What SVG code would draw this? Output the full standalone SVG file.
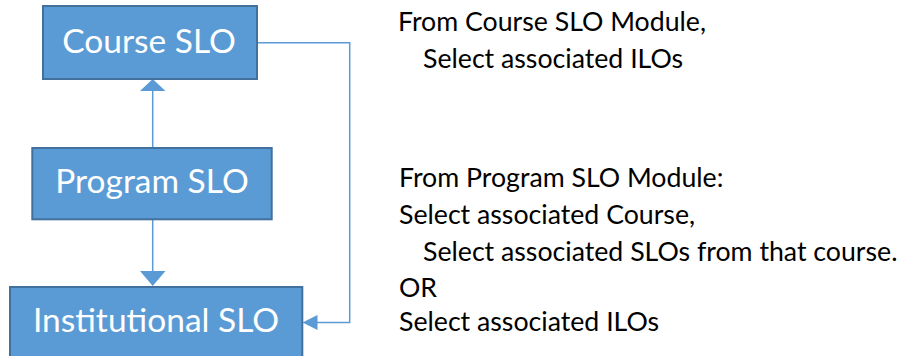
<svg xmlns="http://www.w3.org/2000/svg" width="904" height="356" viewBox="0 0 904 356">
<style>
.box{fill:#5B9BD5;stroke:#41719C;stroke-width:2}
.bt{fill:#FFFFFF;font-family:Lato,"Open Sans",sans-serif;font-size:33.5px;text-anchor:middle}
.note{fill:#000000;font-family:Lato,"Open Sans",sans-serif;font-size:26.7px}
.conn{fill:none;stroke:#5B9BD5;stroke-width:1.5}
.head{fill:#5B9BD5}
</style>
<rect width="904" height="356" fill="#FFFFFF"/>
<g id="connectors">
<line class="conn" x1="152.7" y1="148" x2="152.7" y2="90"/>
<polygon class="head" points="152.7,79 165.5,91 140,91"/>
<line class="conn" x1="152.7" y1="219" x2="152.7" y2="272"/>
<polygon class="head" points="152.7,286 140,271 165.5,271"/>
<polyline class="conn" points="257,42.7 349.7,42.7 349.7,322.5 316,322.5"/>
<polygon class="head" points="302.5,322.5 317.5,315 317.5,330"/>
</g>
<g id="course-slo">
<rect class="box" x="43" y="6" width="214" height="73"/>
<text class="bt" x="149" y="53">Course SLO</text>
</g>
<g id="program-slo">
<rect class="box" x="32.3" y="148" width="239.4" height="71.3"/>
<text class="bt" x="152" y="193">Program SLO</text>
</g>
<g id="institutional-slo">
<rect class="box" x="10" y="287" width="292.3" height="80"/>
<text class="bt" x="156" y="331.7">Institutional SLO</text>
</g>
<g id="notes">
<text class="note" x="398" y="31">From Course SLO Module,</text>
<text class="note" x="423" y="68">Select associated ILOs</text>
<text class="note" x="399" y="187">From Program SLO Module:</text>
<text class="note" x="399" y="224">Select associated Course,</text>
<text class="note" x="423" y="261">Select associated SLOs from that course.</text>
<text class="note" x="399" y="297">OR</text>
<text class="note" x="399" y="331">Select associated ILOs</text>
</g>
</svg>
